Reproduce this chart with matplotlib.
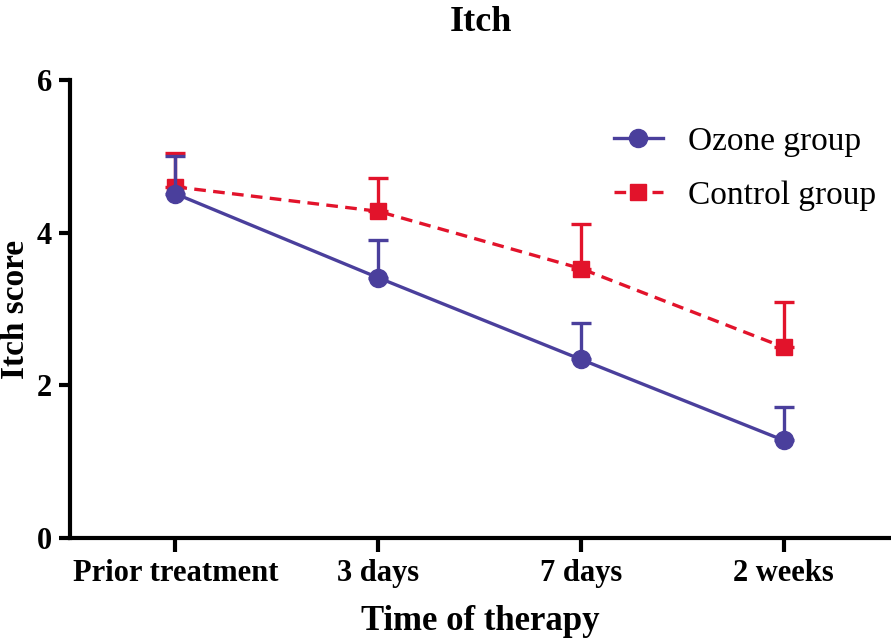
import matplotlib.pyplot as plt
from matplotlib.lines import Line2D
import numpy as np

times = ["Prior treatment", "3 days", "7 days", "2 weeks"]
ozone = [4.51, 3.41, 2.34, 1.28]
ozone_err = [0.50, 0.49, 0.48, 0.44]
control = [4.60, 4.28, 3.53, 2.50]
control_err = [0.45, 0.44, 0.58, 0.59]

plt.rcParams['font.family'] = ['Liberation Serif', 'DejaVu Serif']
plt.rcParams['font.weight'] = 'bold'

blue = '#4A3F9C'
red = '#E2132B'

fig = plt.figure(figsize=(8.91, 6.38), dpi=100)
ax = fig.add_axes([70/891, 1-538/638, 821/891, (538-80)/638])

x = np.arange(len(times))
dash = (0, (3.5, 2.2))
ax.errorbar(x, control, yerr=[np.zeros(4), control_err], color=red, ls=dash, lw=2.4,
            marker='s', ms=11, capsize=7, capthick=2.4, elinewidth=2.4, zorder=2)
ax.errorbar(x, ozone, yerr=[np.zeros(4), ozone_err], color=blue, ls='-', lw=2.4,
            marker='o', ms=13, capsize=7, capthick=2.4, elinewidth=2.4, zorder=3)

ax.set_xlim(-0.52, 3.53)
ax.set_ylim(0, 6)
ax.set_yticks([0, 2, 4, 6])
ax.set_xticks(x)
ax.set_xticklabels(times)
for s in ['top', 'right']:
    ax.spines[s].set_visible(False)
for s in ['left', 'bottom']:
    ax.spines[s].set_linewidth(3)
ax.tick_params(width=3, length=8, labelsize=22, pad=5)
ax.tick_params(axis='x', length=10)

ax.set_title("Itch", fontsize=26, fontweight='bold', pad=35)
ax.set_xlabel("Time of therapy", fontsize=25, fontweight='bold', labelpad=12)
ax.set_ylabel("Itch score", fontsize=24, fontweight='bold')
ax.yaxis.set_label_coords(-0.048, 0.5)

handles = [Line2D([], [], color=blue, ls='-', lw=2.4, marker='o', ms=13),
           Line2D([], [], color=red, ls=dash, lw=2.4, marker='s', ms=11)]
ax.legend(handles, ["Ozone group", "Control group"], loc='upper right',
          bbox_to_anchor=(1.018, 0.965), frameon=False,
          prop={'family': 'Liberation Serif', 'weight': 'normal', 'size': 24},
          handlelength=1.45, handletextpad=0.75, labelspacing=0.72)

fig.savefig("out.png", dpi=100)
